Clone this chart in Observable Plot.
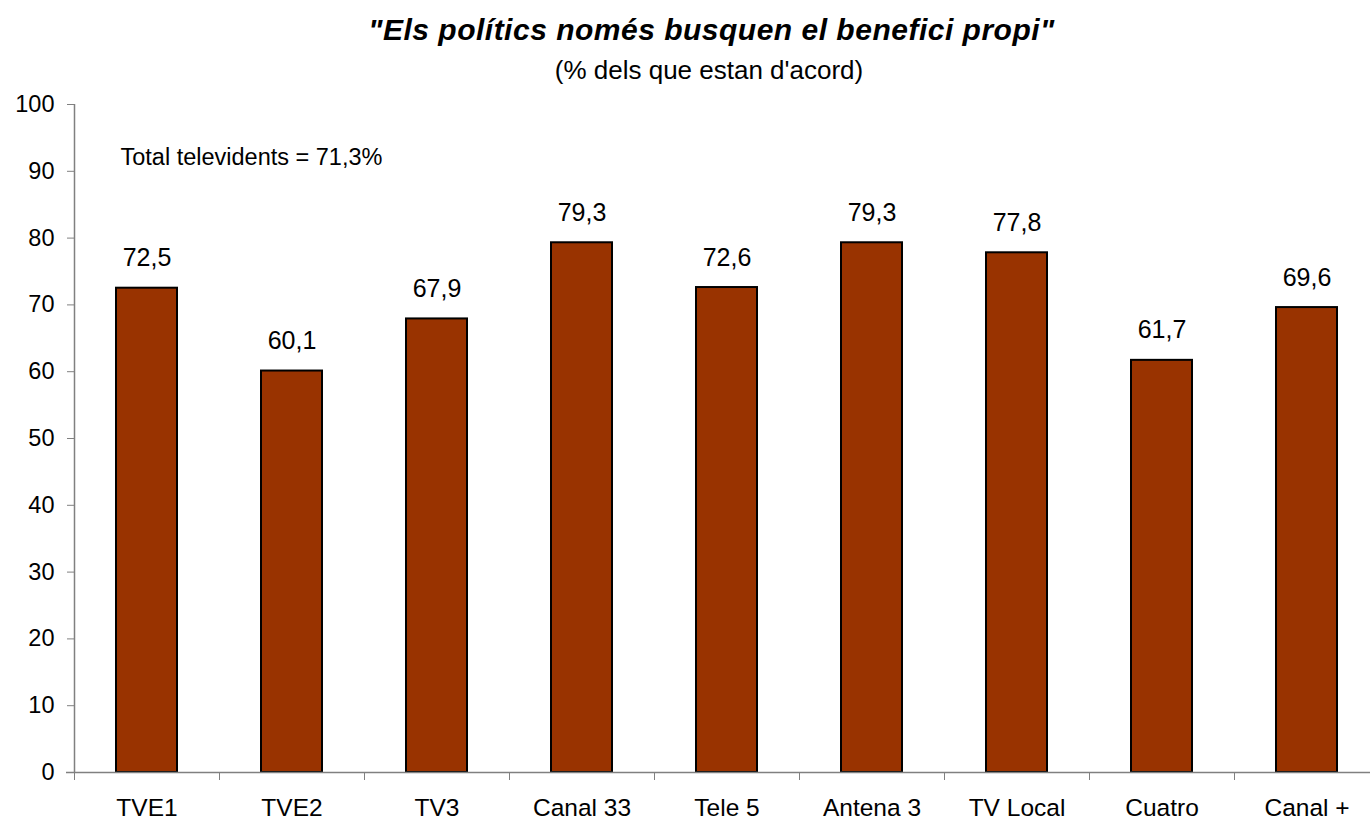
<!DOCTYPE html>
<html>
<head>
<meta charset="utf-8">
<script src="https://cdn.jsdelivr.net/npm/d3@7"></script>
<script src="https://cdn.jsdelivr.net/npm/@observablehq/plot@0.6"></script>
<style>
  html, body { margin: 0; padding: 0; background: #fff; overflow: hidden; }
  body { font-family: "Liberation Sans", Arial, sans-serif; width: 1370px; height: 824px; }
  #head { position: relative; height: 90px; }
  #title { position: absolute; left: 0; width: 1370px; top: 12px; line-height: 36px; text-align: center;
           font-size: 30px; letter-spacing: 0.5px; font-weight: bold; font-style: italic; color: #000; padding-left: 53px; box-sizing: border-box; }
  #subtitle { position: absolute; left: 0; width: 1370px; top: 56px; line-height: 28px; text-align: center;
              font-size: 26px; color: #000; padding-left: 48px; box-sizing: border-box; }
  #chart svg { display: block; }
</style>
</head>
<body>
<div id="head">
  <div id="title">"Els polítics només busquen el benefici propi"</div>
  <div id="subtitle">(% dels que estan d'acord)</div>
</div>
<div id="chart"></div>
<script>
const categories = ["TVE1", "TVE2", "TV3", "Canal 33", "Tele 5", "Antena 3", "TV Local", "Cuatro", "Canal +"];
const values = [72.5, 60.1, 67.9, 79.3, 72.6, 79.3, 77.8, 61.7, 69.6];
const yTicks = [0, 10, 20, 30, 40, 50, 60, 70, 80, 90, 100];
const annotation = "Total televidents = 71,3%";

const data = categories.map((c, i) => ({category: c, value: values[i]}));
const fmt = v => v.toFixed(1).replace(".", ",");

const x0 = 74, x1 = 1379;
const step = (x1 - x0) / categories.length;
const axisColor = "#808080";

const chart = Plot.plot({
  width: 1370,
  height: 734,
  marginTop: 14,
  marginBottom: 52,
  marginLeft: 74,
  marginRight: 0,
  style: {fontFamily: '"Liberation Sans", Arial, sans-serif', fontSize: "23.5px", color: "#000", background: "#fff"},
  x: {domain: categories, range: [x0, x1], paddingInner: 0.58, paddingOuter: 0.29},
  y: {domain: [0, 100]},
  marks: [
    Plot.barY(data, {x: "category", y: "value", fill: "#993300", stroke: "#000", strokeWidth: 2}),
    Plot.ruleX([categories[0]], {dx: -step / 2, stroke: axisColor, strokeWidth: 1.5}),
    Plot.ruleY([0], {insetLeft: -8, stroke: axisColor, strokeWidth: 1.5}),
    Plot.axisY({ticks: yTicks, tickSize: 7, tickPadding: 13, stroke: axisColor, fontSize: 23.5, fill: "#000", label: null}),
    Plot.axisX({tickSize: 8, text: null, dx: -step / 2, stroke: axisColor, label: null}),
    Plot.axisX({tickSize: 0, tickPadding: 36, fontSize: 24.5, fill: "#000", label: null, lineAnchor: "middle"}),
    Plot.text(data, {x: "category", y: "value", text: d => fmt(d.value), dy: -30, fontSize: 25, fill: "#000"}),
    Plot.text([annotation], {frameAnchor: "top-left", dx: 46, dy: 53, textAnchor: "start", lineAnchor: "middle", fontSize: 23.5, fill: "#000"})
  ]
});
document.getElementById("chart").appendChild(chart);
</script>
</body>
</html>
